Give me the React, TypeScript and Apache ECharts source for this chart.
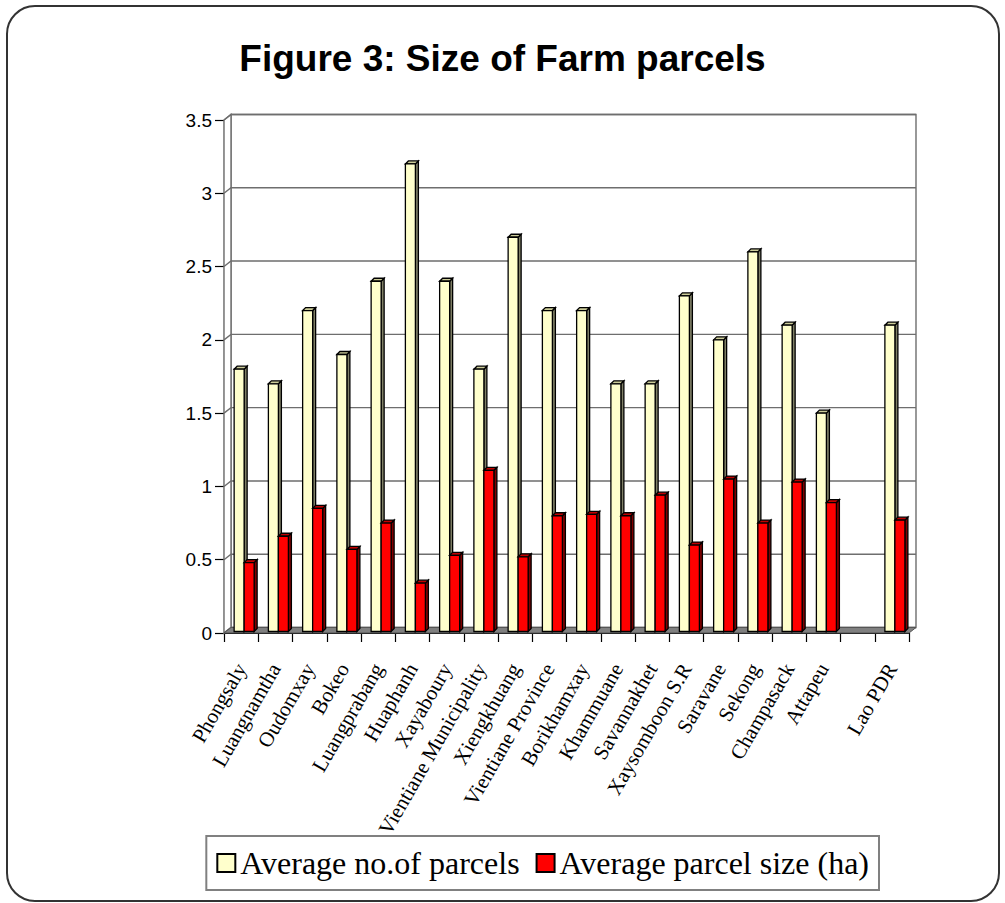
import React, { useEffect, useRef } from "react";
import * as echarts from "echarts";

const categories = [
  "Phongsaly", "Luangnamtha", "Oudomxay", "Bokeo", "Luangprabang", "Huaphanh",
  "Xayaboury", "Vientiane Municipality", "Xiengkhuang", "Vientiane Province",
  "Borikhamxay", "Khammuane", "Savannakhet", "Xaysomboon S.R", "Saravane",
  "Sekong", "Champasack", "Attapeu", "", "Lao PDR",
];
const avgParcels = [1.8, 1.7, 2.2, 1.9, 2.4, 3.2, 2.4, 1.8, 2.7, 2.2, 2.2, 1.7, 1.7, 2.3, 2.0, 2.6, 2.1, 1.5, null, 2.1];
const avgSize = [0.48, 0.66, 0.85, 0.57, 0.75, 0.34, 0.53, 1.11, 0.52, 0.8, 0.81, 0.8, 0.94, 0.6, 1.05, 0.75, 1.03, 0.89, null, 0.77];
const yTicks = [0, 0.5, 1, 1.5, 2, 2.5, 3, 3.5];
const seriesNames = ["Average no.of parcels", "Average parcel size (ha)"];

const WALL_DX = 7;
const WALL_DY = -5.5;

function barRenderer(offsetFrac: number, widthFrac: number, front: string, side: string, topc: string) {
  return (params: any, api: any) => {
    const idx = api.value(0);
    const v = api.value(1);
    const top = api.coord([idx, v]);
    const base = api.coord([idx, 0]);
    const cw = api.size([1, 0])[0];
    const x0 = top[0] + offsetFrac * cw;
    const x1 = x0 + widthFrac * cw;
    const yT = top[1];
    const yB = base[1] - 1.5;
    const d = 3;
    const st = { stroke: "#000", lineWidth: 1.3 };
    return {
      type: "group",
      children: [
        { type: "polygon", shape: { points: [[x1, yT], [x1 + d, yT - d], [x1 + d, yB - d], [x1, yB]] }, style: { fill: side, ...st } },
        { type: "polygon", shape: { points: [[x0, yT], [x0 + d, yT - d], [x1 + d, yT - d], [x1, yT]] }, style: { fill: topc, ...st } },
        { type: "rect", shape: { x: x0, y: yT, width: x1 - x0, height: yB - yT }, style: { fill: front, ...st } },
      ],
    };
  };
}

function wallRenderer(params: any, api: any) {
  const cs = params.coordSys;
  const L = cs.x, T = cs.y, R = cs.x + cs.width, B = cs.y + cs.height;
  const dx = WALL_DX, dy = WALL_DY;
  const grid = "#6e6e6e";
  const children: any[] = [];
  children.push({ type: "rect", shape: { x: L + dx, y: T + dy, width: R - L, height: B - T }, style: { fill: "#fff", stroke: grid, lineWidth: 1.4 } });
  children.push({ type: "polygon", shape: { points: [[L, T], [L + dx, T + dy], [L + dx, B + dy], [L, B]] }, style: { fill: "#fff", stroke: grid, lineWidth: 1.4 } });
  yTicks.forEach((v) => {
    const y = api.coord([0, v])[1];
    children.push({ type: "polyline", shape: { points: [[L, y], [L + dx, y + dy], [R + dx, y + dy]] }, style: { stroke: grid, lineWidth: 1.4, fill: null } });
  });
  children.push({ type: "polygon", shape: { points: [[L, B], [R, B], [R + dx, B + dy], [L + dx, B + dy]] }, style: { fill: "#808080", stroke: "#555", lineWidth: 1 } });
  return { type: "group", children };
}

export default function App() {
  const ref = useRef<HTMLDivElement>(null);
  useEffect(() => {
    const chart = echarts.init(ref.current!, null, { renderer: "svg" });
    const toData = (arr: (number | null)[]) =>
      arr.map((v, i) => (v == null ? null : [i, v])).filter((d) => d !== null);
    chart.setOption({
      animation: false,
      backgroundColor: "#fff",
      title: {
        text: "Figure 3: Size of Farm parcels",
        left: "center",
        top: 35,
        textStyle: { fontFamily: "Liberation Sans", fontWeight: "bold", fontSize: 37, color: "#000" },
      },
      graphic: [
        {
          type: "rect",
          shape: { x: 7, y: 6, width: 992, height: 895, r: 28 },
          style: { fill: "none", stroke: "#333", lineWidth: 2 },
          silent: true,
          z: 100,
        },
      ],
      legend: {
        data: seriesNames,
        right: 126,
        top: 836,
        icon: "rect",
        itemWidth: 18,
        itemHeight: 18,
        itemGap: 16,
        padding: [11, 10],
        borderColor: "#808080",
        borderWidth: 2,
        textStyle: { fontFamily: "Liberation Serif", fontSize: 32, color: "#000" },
      },
      grid: { left: 224, right: 96, top: 120, bottom: 270 },
      xAxis: {
        type: "category",
        data: categories,
        axisLine: { show: true, lineStyle: { color: "#000", width: 1 } },
        axisTick: { show: true, length: 9, interval: 0, lineStyle: { color: "#000", width: 1.2 } },
        axisLabel: {
          interval: 0,
          rotate: 60,
          margin: 32,
          fontFamily: "Liberation Serif",
          fontSize: 21,
          color: "#000",
        },
        splitLine: { show: false },
      },
      yAxis: {
        type: "value",
        min: 0,
        max: 3.5,
        interval: 0.5,
        axisLine: { show: true, lineStyle: { color: "#000", width: 1.2 } },
        axisTick: { show: true, length: 9, lineStyle: { color: "#000", width: 1.2 } },
        axisLabel: { margin: 12, fontFamily: "Liberation Sans", fontSize: 19, color: "#000" },
        splitLine: { show: false },
      },
      series: [
        {
          type: "custom",
          name: "wall",
          silent: true,
          z: 1,
          data: [[0, 0]],
          encode: { x: 0, y: 1 },
          renderItem: wallRenderer,
        },
        {
          type: "custom",
          name: seriesNames[0],
          z: 2,
          itemStyle: { color: "#FFFFCC", borderColor: "#000", borderWidth: 1 },
          data: toData(avgParcels),
          encode: { x: 0, y: 1 },
          renderItem: barRenderer(-0.204, 0.292, "#FFFFCC", "#7F7F66", "#CCCC99"),
        },
        {
          type: "custom",
          name: seriesNames[1],
          z: 2,
          itemStyle: { color: "#FF0000", borderColor: "#000", borderWidth: 1 },
          data: toData(avgSize),
          encode: { x: 0, y: 1 },
          renderItem: barRenderer(0.088, 0.292, "#FF0000", "#800000", "#C00000"),
        },
      ],
    });
    return () => chart.dispose();
  }, []);
  return (
    <div
      ref={ref}
      style={{ position: "absolute", left: 0, top: 0, width: 1005, height: 903 }}
    />
  );
}
